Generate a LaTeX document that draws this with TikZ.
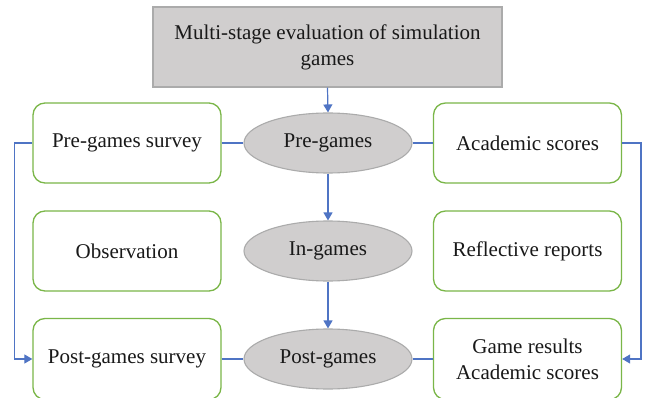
\documentclass[tikz,border=0pt]{standalone}
\usepackage{fontspec}
\setmainfont{Liberation Serif}
\usetikzlibrary{shapes.geometric,arrows.meta}
\definecolor{boxgray}{HTML}{D0CECE}
\definecolor{edgegray}{HTML}{ABABAB}
\definecolor{okgreen}{HTML}{7AB648}
\definecolor{linkblue}{HTML}{4F74C4}
\begin{document}
\begin{tikzpicture}[x=1pt,y=-1pt,
  every node/.style={font=\fontsize{21}{26}\selectfont, text=black!90, inner sep=0pt},
  topbox/.style={rectangle, draw=edgegray, fill=boxgray, line width=1.2pt, minimum width=349pt, minimum height=80pt, align=center},
  greenbox/.style={rectangle, rounded corners=12pt, draw=okgreen, fill=white, line width=1.3pt, minimum width=188pt, minimum height=80pt, align=center},
  stage/.style={ellipse, draw=edgegray, fill=boxgray, line width=1.1pt, minimum width=168pt, minimum height=60pt},
  link/.style={draw=linkblue, line width=1.2pt},
  arrowlink/.style={link, -{Triangle[length=8pt,width=9pt]}}
]
\useasboundingbox (0,0) rectangle (645,398);
\node[topbox] (top) at (327.5,47) {Multi-stage evaluation of simulation\\games};
\node[greenbox] (presurvey) at (127,143) {Pre-games survey};
\node[greenbox] (obs) at (127,251) {Observation};
\node[greenbox, minimum height=81pt] (postsurvey) at (127,359) {Post-games survey};
\node[greenbox] (acad) at (527.5,143) {Academic scores};
\node[greenbox] (refl) at (527.5,251) {Reflective reports};
\node[greenbox, minimum height=81pt] (results) at (527.5,359) {Game results\\Academic scores};
\node[stage] (pre) at (328,143) {Pre-games};
\node[stage] (in) at (328,251) {In-games};
\node[stage] (post) at (328,359) {Post-games};
\coordinate (lc) at (14.5,143);
\coordinate (rc) at (641,143);
\draw[arrowlink] (top.south) -- (pre.north);
\draw[arrowlink] (pre.south) -- (in.north);
\draw[arrowlink] (in.south) -- (post.north);
\draw[link] (presurvey.east) -- (pre.west);
\draw[link] (pre.east) -- (acad.west);
\draw[link] (postsurvey.east) -- (post.west);
\draw[link] (post.east) -- (results.west);
\draw[arrowlink] (presurvey.west) -- (lc) |- (postsurvey.west);
\draw[arrowlink] (acad.east) -- (rc) |- (results.east);
\end{tikzpicture}
\end{document}
